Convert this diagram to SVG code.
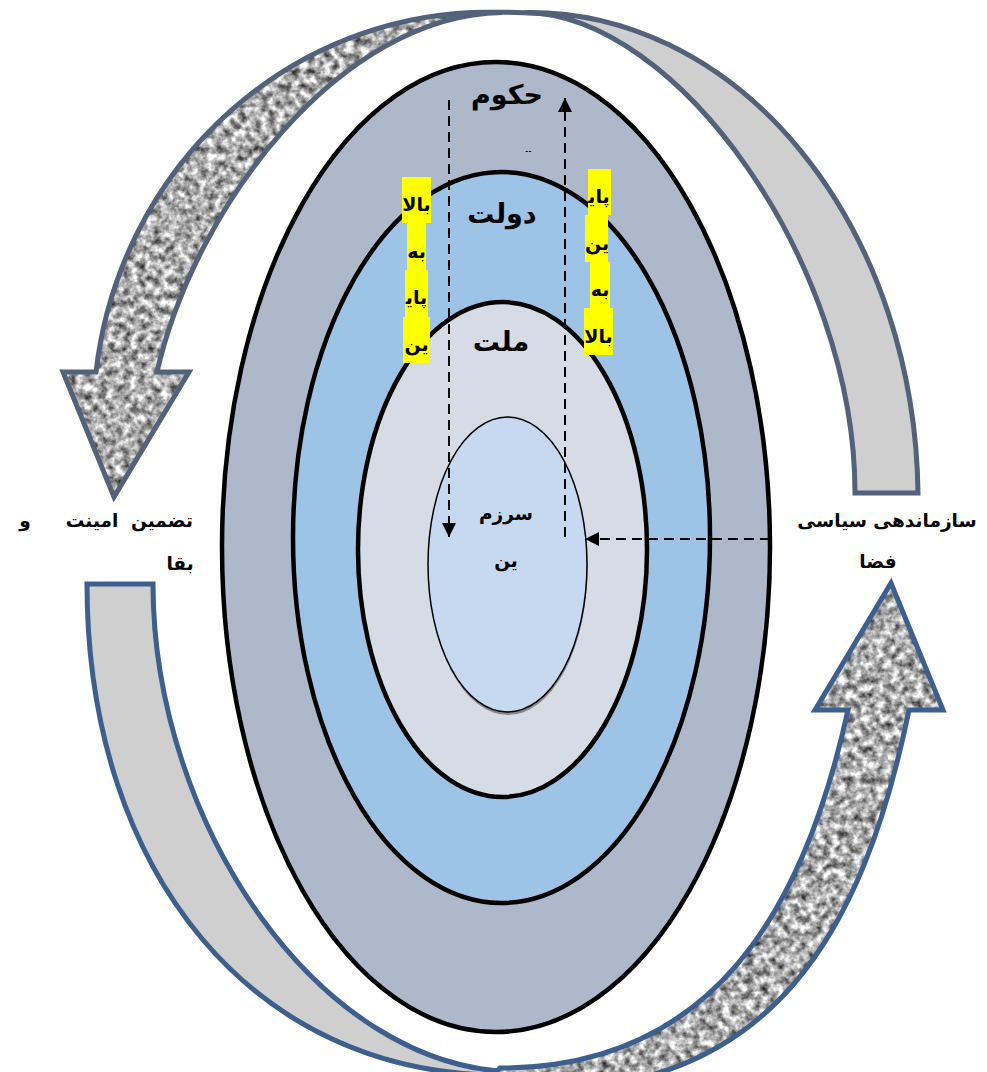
<svg xmlns="http://www.w3.org/2000/svg" xmlns:xlink="http://www.w3.org/1999/xlink" width="987" height="1072" viewBox="0 0 987 1072">
<style>
.ar{font-family:"DejaVu Sans",sans-serif;font-weight:bold;fill:#000;}
.big{font-size:27px;}
.mid{font-size:18.5px;}
.sm{font-size:19px;}
.ring{stroke:#000;stroke-width:4.5;}
.grain{fill:#888;filter:url(#grain);}
.topline{fill:none;stroke:#52627A;stroke-width:5;stroke-linejoin:miter;}
.botline{fill:none;stroke:#3C5F8E;stroke-width:5;stroke-linejoin:miter;}
.band{fill:#CFCFCF;}
.dash{fill:none;stroke:#000;stroke-width:2;stroke-dasharray:10 6;}
.hl{fill:#FFFF00;}
</style>
<defs>
<filter id="grain" x="0" y="0" width="1" height="1" color-interpolation-filters="sRGB">
<feTurbulence type="fractalNoise" baseFrequency="0.13" numOctaves="3" seed="7" result="n"/>
<feColorMatrix in="n" type="matrix" values="1.35 0 0 0 0  1.35 0 0 0 0  1.35 0 0 0 0  0 0 0 0 1" result="g"/>
<feComposite in="g" in2="SourceGraphic" operator="in"/>
</filter>
<marker id="ah" viewBox="0 0 10 10" refX="10" refY="5" markerWidth="15" markerHeight="14" markerUnits="userSpaceOnUse" orient="auto">
<path d="M0,0 L10,5 L0,10 z" fill="#000"/>
</marker>
<clipPath id="tclip"><rect x="500" y="141" width="60" height="11"/></clipPath>
<path id="arrowTL" d="M502 12.5 A395 408 0 0 0 96 372 L63 372 L114 497 L189 372 L157 372 C195 206 340 15 502 12.5 Z"/>
<path id="bandTR" d="M525 12.5 A388 488 0 0 1 918 493 L855 493 C855 263 677 14 525 12.5 Z"/>
<path id="bandBL" d="M153 584 L87 584 C87 874 255 1075 500 1075 L600 1095 L520 1072 C320 1072 153 824 153 584 Z"/>
<path id="arrowBR" d="M848 710 L815 710 L891 583 L943 710 L909 710 C863 935 770 1090 540 1090 L470 1100 L500 1068 C710 1068 803 915 848 710 Z"/>
</defs>

<g id="cycle">
<use xlink:href="#bandBL" class="band"/>
<use xlink:href="#bandBL" class="botline"/>
<use xlink:href="#arrowBR" class="grain"/>
<use xlink:href="#arrowBR" class="botline"/>
<use xlink:href="#bandTR" class="band"/>
<use xlink:href="#bandTR" class="topline"/>
<use xlink:href="#arrowTL" class="grain"/>
<use xlink:href="#arrowTL" class="topline"/>
<path d="M470 13 Q513 11 556 14.5" class="topline"/>
</g>

<g id="hokumat">
<ellipse cx="496" cy="547" rx="274" ry="485" fill="#ADB9CA" class="ring"/>
</g>
<g id="dowlat">
<ellipse cx="501.5" cy="537.5" rx="208.5" ry="365.5" fill="#9DC3E6" class="ring"/>
</g>
<g id="mellat">
<ellipse cx="502.5" cy="549.5" rx="144.5" ry="247.5" fill="#D6DCE5" class="ring"/>
</g>
<g id="sarzamin">
<ellipse cx="508" cy="567.5" rx="79.5" ry="147.5" fill="#8A8A8A"/>
<ellipse cx="507.5" cy="564.5" rx="79.5" ry="147.5" fill="#C5D9F1" stroke="#000" stroke-width="1.5"/>
</g>

<g id="connectors">
<path class="dash" d="M449 100 L449 537" marker-end="url(#ah)"/>
<path class="dash" d="M565 537 L565 98" marker-end="url(#ah)"/>
<path class="dash" d="M770 539 L585 539" marker-end="url(#ah)"/>
</g>

<g id="labels-center">
<text class="ar big" x="507" y="104" text-anchor="middle">حکوم</text>
<text class="ar big" x="529" y="162" text-anchor="middle" clip-path="url(#tclip)">ت</text>
<text class="ar big" x="502" y="223" text-anchor="middle">دولت</text>
<text class="ar big" x="501" y="351" text-anchor="middle">ملت</text>
<text class="ar mid" x="506" y="520" text-anchor="middle">سرزم</text>
<text class="ar mid" x="506" y="567" text-anchor="middle">ین</text>
</g>

<g id="label-down">
<rect class="hl" x="402" y="177" width="29" height="46"/>
<rect class="hl" x="407" y="223" width="19" height="47"/>
<rect class="hl" x="405" y="270" width="23" height="47"/>
<rect class="hl" x="403" y="317" width="27" height="46"/>
<text class="ar sm" x="416.5" y="211" text-anchor="middle">بالا</text>
<text class="ar sm" x="416.5" y="258" text-anchor="middle">به</text>
<text class="ar sm" x="416.5" y="304" text-anchor="middle">پای‍</text>
<text class="ar sm" x="416.5" y="351" text-anchor="middle">ین</text>
</g>

<g id="label-up">
<rect class="hl" x="588" y="169" width="23" height="46"/>
<rect class="hl" x="585" y="215" width="23" height="47"/>
<rect class="hl" x="590" y="262" width="20" height="46"/>
<rect class="hl" x="584" y="308" width="29" height="47"/>
<text class="ar sm" x="599" y="203" text-anchor="middle">پای‍</text>
<text class="ar sm" x="597" y="250" text-anchor="middle">ین</text>
<text class="ar sm" x="600" y="296" text-anchor="middle">به</text>
<text class="ar sm" x="598.5" y="343" text-anchor="middle">بالا</text>
</g>

<g id="label-left">
<text class="ar mid" y="527" text-anchor="middle"><tspan x="162">تضمین</tspan><tspan x="92">امینت</tspan><tspan x="25">و</tspan></text>
<text class="ar mid" x="180" y="570" text-anchor="middle">بقا</text>
</g>

<g id="label-right">
<text class="ar mid" x="887" y="527" text-anchor="middle">سازماندهی سیاسی</text>
<text class="ar mid" x="878" y="568" text-anchor="middle">فضا</text>
</g>
</svg>
